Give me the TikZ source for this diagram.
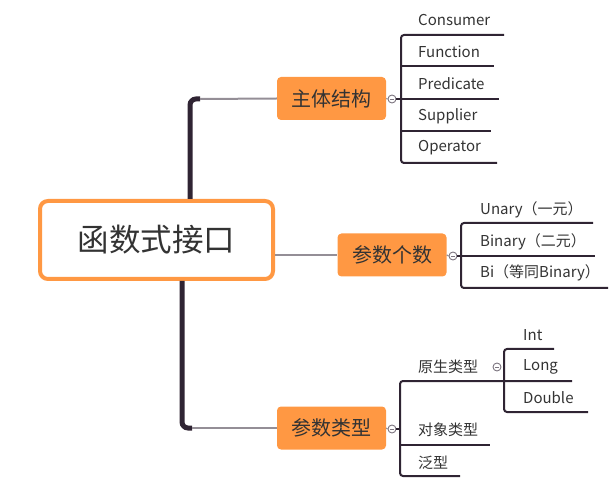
\documentclass[tikz,border=0pt]{standalone}
\usepackage{fontspec}
\setmainfont{Noto Sans CJK SC}
\definecolor{orangec}{HTML}{FF9843}
\definecolor{trunkc}{HTML}{2F2433}
\definecolor{linkc}{HTML}{948E96}
\definecolor{txtc}{HTML}{333333}
\definecolor{circc}{HTML}{7D7580}
\begin{document}
\begin{tikzpicture}[x=1pt,y=-1pt,
  trunk/.style={draw=trunkc, line width=5pt},
  link/.style={draw=linkc, line width=2pt},
  brk/.style={draw=trunkc, line width=2pt, rounded corners=3pt},
  uline/.style={draw=trunkc, line width=2pt},
  rootbox/.style={draw=orangec, line width=4pt, rounded corners=8pt, fill=white,
    minimum width=233pt, minimum height=78pt, inner sep=0pt, text=txtc,
    font=\fontsize{31.5}{36}\selectfont},
  mainbox/.style={fill=orangec, rounded corners=4pt, minimum width=109pt,
    minimum height=43pt, inner sep=0pt, text=txtc, font=\fontsize{20}{24}\selectfont},
  leaf/.style={anchor=west, inner sep=0pt, text=txtc, font=\fontsize{15}{18}\selectfont},
  collapse/.style={circle, draw=circc, fill=white, line width=0.9pt, minimum size=8pt,
    inner sep=0pt, path picture={\draw[circc, line width=0.8pt]
      ([xshift=2pt]path picture bounding box.west) -- ([xshift=-2pt]path picture bounding box.east);}}
]
\useasboundingbox (0,0) rectangle (616,486);

% root and main boxes
\node[rootbox] (root) at (156.5,240) {函数式接口};
\node[mainbox] (zt) at (331.5,98.5) {主体结构};
\node[mainbox] (cs) at (392,255) {参数个数};
\node[mainbox] (lx) at (331.5,428) {参数类型};

% trunk connectors
\coordinate (ja) at (190,99);
\coordinate (jb) at (182,428);
\draw[trunk, rounded corners=6pt] (root.north -| ja) -- (ja) -- ++(10,0);
\draw[link] ([xshift=10pt]ja) -- (zt.west);
\draw[trunk, rounded corners=6pt] (root.south -| jb) -- (jb) -- ++(10,0);
\draw[link] ([xshift=10pt]jb) -- (lx.west);
\draw[link] (root.east |- cs.west) -- (cs.west);

% collapse markers
\node[collapse] (c1) at (392,99) {};
\node[collapse] (c2) at (453,256) {};
\node[collapse] (c3) at (392,429) {};
\node[collapse] (c4) at (497,367) {};
\draw[link, line width=1.2pt] (zt.east) -- (c1.west);
\draw[link, line width=1.2pt] (cs.east) -- (c2.west);
\draw[link, line width=1.2pt] (lx.east) -- (c3.west);

% ---- 主体结构 children
\node[leaf] (l11) at (418,20) {Consumer};
\node[leaf] (l12) at (418,52) {Function};
\node[leaf] (l13) at (418,84) {Predicate};
\node[leaf] (l14) at (418,116) {Supplier};
\node[leaf] (l15) at (418,148) {Operator};
\coordinate (b1) at (401,99);
\draw[uline] (c1.east) -- (b1);
\draw[brk] (504,35) -- (401,35) -- (401,163) -- (497,163);
\draw[uline] (401,66.5) -- (494,66.5);
\draw[uline] (401,99) -- (499,99);
\draw[uline] (401,131) -- (491,131);

% ---- 参数个数 children
\node[leaf] (l21) at (480,210) {Unary（一元）};
\node[leaf] (l22) at (480,242) {Binary（二元）};
\node[leaf] (l23) at (480,273) {Bi（等同Binary）};
\coordinate (b2) at (461,256);
\draw[uline] (c2.east) -- (b2);
\draw[brk] (593,223) -- (461,223) -- (461,288) -- (608,288);
\draw[uline] (461,256) -- (595,256);

% ---- 参数类型 children
\node[leaf] (l31) at (418,367) {原生类型};
\node[leaf] (l32) at (418,430) {对象类型};
\node[leaf] (l33) at (418,463) {泛型};
\coordinate (b3) at (400,429);
\draw[uline] (c3.east) -- (b3);
\draw[brk] (572,381) -- (400,381) -- (400,476) -- (460,476);
\draw[uline] (400,445) -- (490,445);

% ---- 原生类型 children
\node[leaf] (l41) at (523,335) {Int};
\node[leaf] (l42) at (523,367) {Long};
\node[leaf] (l43) at (523,398) {Double};
\draw[brk] (554,349) -- (504,349) -- (504,412) -- (588,412);
\end{tikzpicture}
\end{document}
